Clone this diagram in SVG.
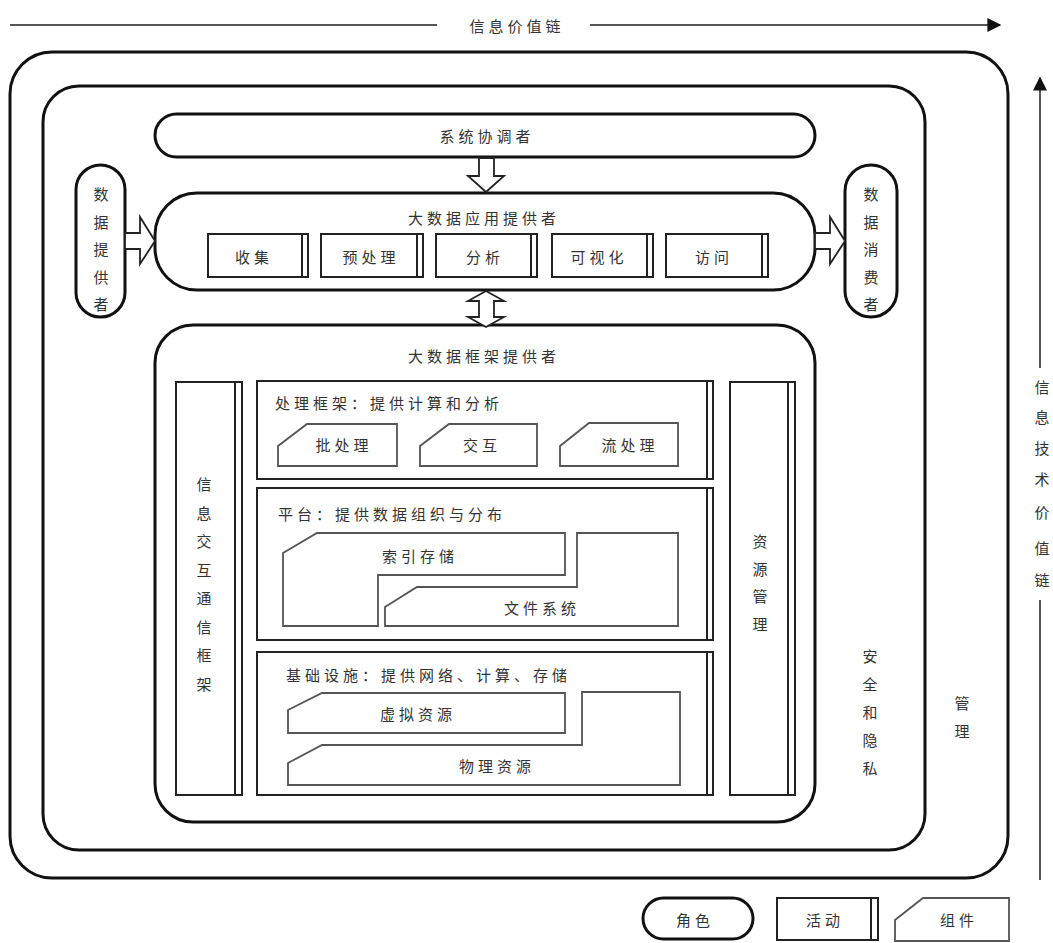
<svg xmlns="http://www.w3.org/2000/svg" width="1053" height="943" viewBox="0 0 1053 943">
<defs>
<style>
.t{font-family:"Noto Sans CJK SC","Noto Sans",sans-serif;font-size:15px;fill:#333;letter-spacing:4px;dominant-baseline:central}
.c{text-anchor:middle}
.bold{fill:none;stroke:#111;stroke-width:3}
.role{fill:#fff;stroke:#111;stroke-width:3}
.act{fill:#fff;stroke:#222;stroke-width:2}
.actl{stroke:#222;stroke-width:2}
.comp{fill:#fff;stroke:#555;stroke-width:1.8}
.hollow{fill:#fff;stroke:#222;stroke-width:1.8;stroke-linejoin:miter}
.vc{stroke:#555;stroke-width:2}
</style>
<marker id="ah" viewBox="0 0 10 10" refX="9" refY="5" markerWidth="10" markerHeight="10" markerUnits="userSpaceOnUse" orient="auto"><path d="M0,0 L10,5 L0,10 z" fill="#111"/></marker>
<marker id="ahBig" viewBox="0 0 10 10" refX="9" refY="5" markerWidth="16" markerHeight="14" markerUnits="userSpaceOnUse" orient="auto"><path d="M0,0 L10,5 L0,10 z" fill="#111"/></marker>
</defs>
<rect width="1053" height="943" fill="#fff"/>

<g id="value-chains">
<line class="vc" x1="10" y1="25" x2="437" y2="25"/>
<line class="vc" x1="590" y1="25" x2="1000" y2="25" marker-end="url(#ahBig)"/>
<text class="t c" x="517" y="25">信息价值链</text>
<line class="vc" x1="1040" y1="880" x2="1040" y2="600"/>
<line class="vc" x1="1040" y1="368" x2="1040" y2="78" marker-end="url(#ahBig)"/>
<text class="t c" x="1042" y="386" style="letter-spacing:0">信<tspan x="1042" dy="30">息</tspan><tspan x="1042" dy="31">技</tspan><tspan x="1042" dy="31">术</tspan><tspan x="1042" dy="33">价</tspan><tspan x="1042" dy="36">值</tspan><tspan x="1042" dy="32">链</tspan></text>
</g>

<g id="management">
<rect class="bold" x="10" y="52" width="998" height="826" rx="42"/>
<text class="t c" x="962" y="702" style="letter-spacing:0">管<tspan x="962" dy="28">理</tspan></text>
</g>

<g id="security-privacy">
<rect class="bold" x="43" y="86" width="882" height="764" rx="36"/>
<text class="t c" x="870" y="655" style="letter-spacing:0">安<tspan x="870" dy="28">全</tspan><tspan x="870" dy="28">和</tspan><tspan x="870" dy="28">隐</tspan><tspan x="870" dy="28">私</tspan></text>
</g>

<g id="system-orchestrator">
<rect class="role" x="155" y="114" width="660" height="43" rx="21.5"/>
<text class="t c" x="487" y="135">系统协调者</text>
</g>

<g id="data-provider">
<rect class="role" x="76" y="165" width="49" height="152" rx="24.5"/>
<text class="t c" x="101" y="193" style="letter-spacing:0">数<tspan x="101" dy="27.5">据</tspan><tspan x="101" dy="27.5">提</tspan><tspan x="101" dy="27.5">供</tspan><tspan x="101" dy="27.5">者</tspan></text>
</g>

<g id="data-consumer">
<rect class="role" x="845" y="165" width="52" height="152" rx="26"/>
<text class="t c" x="871" y="193" style="letter-spacing:0">数<tspan x="871" dy="27.5">据</tspan><tspan x="871" dy="27.5">消</tspan><tspan x="871" dy="27.5">费</tspan><tspan x="871" dy="27.5">者</tspan></text>
</g>

<g id="app-provider">
<rect class="role" x="155" y="193" width="660" height="97" rx="42"/>
<text class="t c" x="484" y="217">大数据应用提供者</text>
<g id="act-collect"><rect class="act" x="208" y="234" width="100" height="43"/><line class="actl" x1="302" y1="234" x2="302" y2="277"/><text class="t c" x="254" y="256">收集</text></g>
<g id="act-preprocess"><rect class="act" x="321" y="234" width="102" height="43"/><line class="actl" x1="417" y1="234" x2="417" y2="277"/><text class="t c" x="371" y="256">预处理</text></g>
<g id="act-analytics"><rect class="act" x="436" y="234" width="101" height="43"/><line class="actl" x1="531" y1="234" x2="531" y2="277"/><text class="t c" x="485" y="256">分析</text></g>
<g id="act-visualization"><rect class="act" x="552" y="234" width="101" height="43"/><line class="actl" x1="647" y1="234" x2="647" y2="277"/><text class="t c" x="599" y="256">可视化</text></g>
<g id="act-access"><rect class="act" x="666" y="234" width="102" height="43"/><line class="actl" x1="762" y1="234" x2="762" y2="277"/><text class="t c" x="714" y="256">访问</text></g>
</g>

<g id="framework-provider">
<rect class="role" x="155" y="325" width="660" height="497" rx="38"/>
<text class="t c" x="484" y="355">大数据框架提供者</text>

<g id="messaging-framework">
<rect class="act" x="176" y="382" width="66" height="413"/><line class="actl" x1="235" y1="382" x2="235" y2="795"/>
<text class="t c" x="204" y="483" style="letter-spacing:0">信<tspan x="204" dy="28.5">息</tspan><tspan x="204" dy="28.5">交</tspan><tspan x="204" dy="28.5">互</tspan><tspan x="204" dy="28.5">通</tspan><tspan x="204" dy="28.5">信</tspan><tspan x="204" dy="28.5">框</tspan><tspan x="204" dy="28.5">架</tspan></text>
</g>

<g id="resource-management">
<rect class="act" x="730" y="382" width="65" height="413"/><line class="actl" x1="788" y1="382" x2="788" y2="795"/>
<text class="t c" x="760" y="540" style="letter-spacing:0">资<tspan x="760" dy="27.5">源</tspan><tspan x="760" dy="27.5">管</tspan><tspan x="760" dy="27.5">理</tspan></text>
</g>

<g id="processing">
<rect class="act" x="257" y="381" width="456" height="98"/><line class="actl" x1="707" y1="381" x2="707" y2="479"/>
<text class="t" x="275" y="402">处理框架：提供计算和分析</text>
<g id="comp-batch"><polygon class="comp" points="278,466 278,446 307,424 397,424 397,466"/><text class="t c" x="344" y="444">批处理</text></g>
<g id="comp-interactive"><polygon class="comp" points="420,466 420,446 449,424 537,424 537,466"/><text class="t c" x="482" y="444">交互</text></g>
<g id="comp-streaming"><polygon class="comp" points="560,466 560,446 589,423 678,423 678,466"/><text class="t c" x="630" y="444">流处理</text></g>
</g>

<g id="platform">
<rect class="act" x="257" y="488" width="456" height="152"/><line class="actl" x1="707" y1="488" x2="707" y2="640"/>
<text class="t" x="278" y="513">平台：提供数据组织与分布</text>
<g id="comp-index-storage"><polygon class="comp" points="283,626 283,553 317,533 565,533 565,575 378,575 378,626"/><text class="t c" x="420" y="555">索引存储</text></g>
<g id="comp-file-system"><polygon class="comp" points="385,626 385,607 417,587 577,587 577,533 678,533 678,626"/><text class="t c" x="542" y="607">文件系统</text></g>
</g>

<g id="infrastructure">
<rect class="act" x="257" y="652" width="456" height="143"/><line class="actl" x1="707" y1="652" x2="707" y2="795"/>
<text class="t" x="286" y="674">基础设施：提供网络、计算、存储</text>
<g id="comp-virtual"><polygon class="comp" points="288,733 288,710 322,693 565,693 565,733"/><text class="t c" x="418" y="713">虚拟资源</text></g>
<g id="comp-physical"><polygon class="comp" points="288,785 288,763 322,745 582,745 582,692 680,692 680,785"/><text class="t c" x="497" y="765">物理资源</text></g>
</g>
</g>

<g id="connectors">
<polygon class="hollow" points="479,158 494,158 494,176 504,176 486,192 468,176 479,176"/>
<polygon class="hollow" points="486,291 504,301 494,301 494,317 504,317 486,327 468,317 479,317 479,301 468,301"/>
<polygon class="hollow" points="125,233 140,233 140,217 155,241 140,264 140,249 125,249"/>
<polygon class="hollow" points="815,233 830,233 830,217 845,241 830,264 830,249 815,249"/>
</g>

<g id="legend">
<g id="legend-role"><rect class="role" x="643" y="898" width="110" height="41" rx="20.5"/><text class="t c" x="695" y="919">角色</text></g>
<g id="legend-activity"><rect class="act" x="777" y="898" width="101" height="42"/><line class="actl" x1="871" y1="898" x2="871" y2="940"/><text class="t c" x="825" y="919">活动</text></g>
<g id="legend-component"><polygon class="comp" points="895,941 895,920 923,898 1009,898 1009,941"/><text class="t c" x="959" y="919">组件</text></g>
</g>
</svg>
